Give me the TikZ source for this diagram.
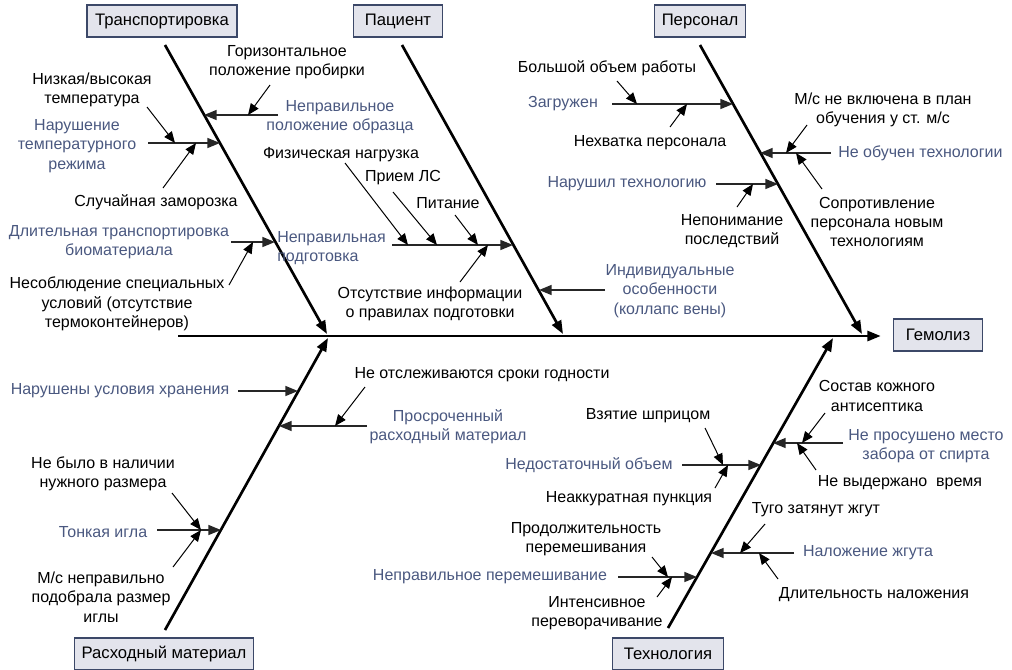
\documentclass[tikz,border=0pt]{standalone}
\usepackage{fontspec}
\setmainfont{Liberation Sans}
\usetikzlibrary{arrows.meta}

\definecolor{causeblue}{RGB}{74,88,128}
\definecolor{boxfill}{RGB}{227,228,236}
\definecolor{boxline}{RGB}{60,72,104}

\begin{document}
\begin{tikzpicture}[x=0.75pt, y=-0.75pt,
    every node/.style={font=\fontsize{12}{14.5}\selectfont},
    block/.style={rectangle, draw=boxline, fill=boxfill, line width=0.9pt, minimum height=24pt, font=\fontsize{12.5}{15}\selectfont},
    cause/.style={text=causeblue, align=center, inner sep=0pt},
    factor/.style={text=black, align=center, inner sep=0pt},
    bone/.style={line width=2pt, -{Triangle[length=10pt, width=7.5pt]}},
    branch/.style={line width=1.1pt, draw=black!85, -{Triangle[length=9.5pt, width=7.5pt]}},
    twig/.style={line width=0.75pt, -{Triangle[length=8.5pt, width=7pt]}}]

    \useasboundingbox (0,0) rectangle (1012,669);

    \node[block, minimum width=112.5pt] (transport) at (162,21) {Транспортировка};
    \node[block, minimum width=67pt] (patient) at (398,21) {Пациент};
    \node[block, minimum width=68pt] (staff) at (700,21) {Персонал};
    \node[block, minimum width=134pt] (supply) at (164,654) {Расходный материал};
    \node[block, minimum width=83pt] (method) at (668,654) {Технология};
    \node[block, minimum width=67pt] (hemolysis) at (938,335) {Гемолиз};

    \coordinate (tail) at (178,336);
    \draw[bone, shorten >=9pt] (tail) -- (hemolysis.west |- tail);

    \coordinate (tTop) at (165,45);  \coordinate (tEnd) at (327,334);
    \coordinate (pTop) at (402,45);  \coordinate (pEnd) at (563,334);
    \coordinate (sTop) at (700,45);  \coordinate (sEnd) at (862,334);
    \coordinate (cBot) at (165,630); \coordinate (cEnd) at (328,338);
    \coordinate (mBot) at (668,628); \coordinate (mEnd) at (833,338);
    \draw[bone] (tTop) -- (tEnd);
    \draw[bone] (pTop) -- (pEnd);
    \draw[bone] (sTop) -- (sEnd);
    \draw[bone] (cBot) -- (cEnd);
    \draw[bone] (mBot) -- (mEnd);

    \node[cause] (tPos) at (340,117) {Неправильное\\положение образца};
    \node[factor] (tHoriz) at (287,62) {Горизонтальное\\положение пробирки};
    \node[cause] (tTemp) at (77,146) {Нарушение\\температурного\\режима};
    \node[factor] (tLow) at (92,90) {Низкая/высокая\\температура};
    \node[factor] (tFreeze) at (156,202) {Случайная заморозка};
    \node[cause] (tLong) at (119,242) {Длительная транспортировка\\биоматериала};
    \node[factor] (tCond) at (117,304) {Несоблюдение специальных\\условий (отсутствие\\термоконтейнеров)};

    \coordinate (tPosA) at (278,115);  \coordinate (tPosB) at (204,115);
    \coordinate (tTempA) at (148,143); \coordinate (tTempB) at (220,143);
    \coordinate (tLongA) at (231,242); \coordinate (tLongB) at (275,242);
    \draw[branch] (tPosA) -- (tPosB);
    \draw[branch] (tTempA) -- (tTempB);
    \draw[branch] (tLongA) -- (tLongB);
    \coordinate (tHorizA) at (270,85);   \coordinate (tHorizB) at (248,115);
    \coordinate (tLowA) at (147,107);    \coordinate (tLowB) at (175,143);
    \coordinate (tFreezeA) at (163,188); \coordinate (tFreezeB) at (196,143);
    \coordinate (tCondA) at (229,285);   \coordinate (tCondB) at (253,242);
    \draw[twig] (tHorizA) -- (tHorizB);
    \draw[twig] (tLowA) -- (tLowB);
    \draw[twig] (tFreezeA) -- (tFreezeB);
    \draw[twig] (tCondA) -- (tCondB);

    \node[cause, anchor=west, align=left] (pPrep) at (277,248) {Неправильная\\подготовка};
    \node[factor] (pLoad) at (341,155) {Физическая нагрузка};
    \node[factor] (pMed) at (403,178) {Прием ЛС};
    \node[factor] (pFood) at (448,203) {Питание};
    \node[factor] (pInfo) at (430,304) {Отсутствие информации\\о правилах подготовки};
    \node[cause] (pInd) at (670,291) {Индивидуальные\\особенности\\(коллапс вены)};

    \coordinate (pPrepA) at (392,245); \coordinate (pPrepB) at (513,245);
    \coordinate (pIndA) at (605,290);  \coordinate (pIndB) at (539,290);
    \draw[branch] (pPrepA) -- (pPrepB);
    \draw[branch] (pIndA) -- (pIndB);
    \coordinate (pLoadA) at (345,163); \coordinate (pLoadB) at (408,245);
    \coordinate (pMedA) at (393,192);  \coordinate (pMedB) at (437,245);
    \coordinate (pFoodA) at (455,215); \coordinate (pFoodB) at (478,245);
    \coordinate (pInfoA) at (460,282); \coordinate (pInfoB) at (488,245);
    \draw[twig] (pLoadA) -- (pLoadB);
    \draw[twig] (pMedA) -- (pMedB);
    \draw[twig] (pFoodA) -- (pFoodB);
    \draw[twig] (pInfoA) -- (pInfoB);

    \node[cause] (sBusy) at (563,104) {Загружен};
    \node[factor] (sBig) at (607,68) {Большой объем работы};
    \node[factor] (sLack) at (650,143) {Нехватка персонала};
    \node[cause] (sViol) at (627,184) {Нарушил технологию};
    \node[factor] (sMis) at (732,231) {Непонимание\\последствий};
    \node[cause, anchor=west] (sTrain) at (838,153) {Не обучен технологии};
    \node[factor] (sPlan) at (883,110) {М/с не включена в план\\обучения у ст. м/с};
    \node[factor] (sResist) at (877,222) {Сопротивление\\персонала новым\\технологиям};

    \coordinate (sBusyA) at (612,104);  \coordinate (sBusyB) at (733,104);
    \coordinate (sTrainA) at (831,153); \coordinate (sTrainB) at (760,153);
    \coordinate (sViolA) at (716,184);  \coordinate (sViolB) at (778,184);
    \draw[branch] (sBusyA) -- (sBusyB);
    \draw[branch] (sTrainA) -- (sTrainB);
    \draw[branch] (sViolA) -- (sViolB);
    \coordinate (sBigA) at (617,81);     \coordinate (sBigB) at (637,104);
    \coordinate (sLackA) at (670,127);   \coordinate (sLackB) at (687,104);
    \coordinate (sMisA) at (737,207);    \coordinate (sMisB) at (753,184);
    \coordinate (sPlanA) at (807,125);   \coordinate (sPlanB) at (786,153);
    \coordinate (sResistA) at (822,189); \coordinate (sResistB) at (796,153);
    \draw[twig] (sBigA) -- (sBigB);
    \draw[twig] (sLackA) -- (sLackB);
    \draw[twig] (sMisA) -- (sMisB);
    \draw[twig] (sPlanA) -- (sPlanB);
    \draw[twig] (sResistA) -- (sResistB);

    \node[cause] (cStore) at (120,391) {Нарушены условия хранения};
    \node[cause] (cExp) at (448,427) {Просроченный\\расходный материал};
    \node[factor] (cDate) at (482,375) {Не отслеживаются сроки годности};
    \node[cause] (cThin) at (103,532) {Тонкая игла};
    \node[factor] (cSize) at (103,474) {Не было в наличии\\нужного размера};
    \node[factor] (cWrong) at (101,597) {М/с неправильно\\подобрала размер\\иглы};

    \coordinate (cStoreA) at (238,391); \coordinate (cStoreB) at (298,391);
    \coordinate (cExpA) at (367,426);   \coordinate (cExpB) at (279,426);
    \coordinate (cThinA) at (157,530);  \coordinate (cThinB) at (221,530);
    \draw[branch] (cStoreA) -- (cStoreB);
    \draw[branch] (cExpA) -- (cExpB);
    \draw[branch] (cThinA) -- (cThinB);
    \coordinate (cDateA) at (365,387);  \coordinate (cDateB) at (335,426);
    \coordinate (cSizeA) at (172,493);  \coordinate (cSizeB) at (201,530);
    \coordinate (cWrongA) at (173,567); \coordinate (cWrongB) at (201,530);
    \draw[twig] (cDateA) -- (cDateB);
    \draw[twig] (cSizeA) -- (cSizeB);
    \draw[twig] (cWrongA) -- (cWrongB);

    \node[cause] (xVol) at (589,465) {Недостаточный объем};
    \node[factor] (xSyr) at (648,416) {Взятие шприцом};
    \node[factor] (xPunc) at (629,499) {Неаккуратная пункция};
    \node[cause] (xMix) at (490,577) {Неправильное перемешивание};
    \node[factor] (xDur) at (586,539) {Продолжительность\\перемешивания};
    \node[factor] (xInt) at (597,613) {Интенсивное\\переворачивание};
    \node[cause] (xDry) at (926,446) {Не просушено место\\забора от спирта};
    \node[factor] (xSkin) at (877,396) {Состав кожного\\антисептика};
    \node[factor] (xTime) at (900,483) {Не выдержано\ \ время};
    \node[cause] (xTour) at (868,553) {Наложение жгута};
    \node[factor] (xTight) at (816,510) {Туго затянут жгут};
    \node[factor] (xLen) at (874,595) {Длительность наложения};

    \coordinate (xVolA) at (682,465);  \coordinate (xVolB) at (761,465);
    \coordinate (xMixA) at (618,577);  \coordinate (xMixB) at (697,577);
    \coordinate (xDryA) at (843,443);  \coordinate (xDryB) at (773,443);
    \coordinate (xTourA) at (794,553); \coordinate (xTourB) at (711,553);
    \draw[branch] (xVolA) -- (xVolB);
    \draw[branch] (xMixA) -- (xMixB);
    \draw[branch] (xDryA) -- (xDryB);
    \draw[branch] (xTourA) -- (xTourB);
    \coordinate (xSyrA) at (705,428);   \coordinate (xSyrB) at (723,465);
    \coordinate (xPuncA) at (715,488);  \coordinate (xPuncB) at (728,465);
    \coordinate (xDurA) at (652,557);   \coordinate (xDurB) at (668,577);
    \coordinate (xIntA) at (657,597);   \coordinate (xIntB) at (672,577);
    \coordinate (xSkinA) at (825,413);  \coordinate (xSkinB) at (802,443);
    \coordinate (xTimeA) at (816,470);  \coordinate (xTimeB) at (797,443);
    \coordinate (xTightA) at (765,524); \coordinate (xTightB) at (740,553);
    \coordinate (xLenA) at (778,579);   \coordinate (xLenB) at (759,553);
    \draw[twig] (xSyrA) -- (xSyrB);
    \draw[twig] (xPuncA) -- (xPuncB);
    \draw[twig] (xDurA) -- (xDurB);
    \draw[twig] (xIntA) -- (xIntB);
    \draw[twig] (xSkinA) -- (xSkinB);
    \draw[twig] (xTimeA) -- (xTimeB);
    \draw[twig] (xTightA) -- (xTightB);
    \draw[twig] (xLenA) -- (xLenB);

\end{tikzpicture}
\end{document}
